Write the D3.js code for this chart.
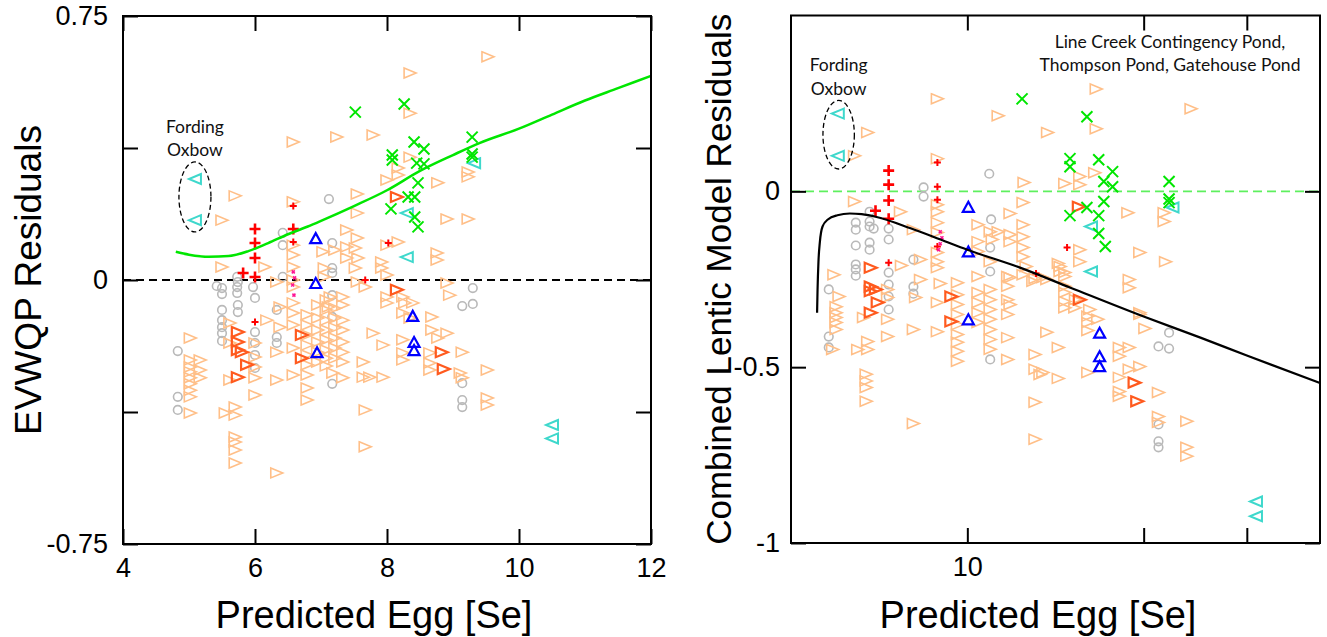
<!DOCTYPE html>
<html>
<head>
<meta charset="utf-8">
<script src="https://cdn.jsdelivr.net/npm/d3@7/dist/d3.min.js"></script>
<style>
  body { margin: 0; background: #fff; }
  svg { display: block; }
</style>
</head>
<body>
<svg id="chart" width="1327" height="637"></svg>
<script>
// ---------- Left panel: EVWQP residuals vs predicted egg Se ----------
const leftXTicks = [4, 6, 8, 10, 12];
const leftXLabels = ["4", "6", "8", "10", "12"];
const leftYTicks = [-0.75, -0.375, 0, 0.375, 0.75];
const leftYLabels = ["-0.75", "", "0", "", "0.75"];

const leftOrange = [
  [6.58,0.392],[5.70,0.239],[5.50,0.170],[5.50,0.037],[6.15,0.037],[6.58,0.222],
  [9.53,0.634],[8.35,0.588],[8.35,0.474],[7.24,0.406],[7.79,0.412],[8.35,0.349],
  [9.23,0.307],[9.23,0.293],[8.17,0.318],[8.17,0.298],[8.00,0.284],[8.77,0.276],
  [7.55,0.244],[7.55,0.190],[8.91,0.173],[9.23,0.173],[8.76,0.077],[8.76,0.057],
  [6.58,0.099],[6.58,0.071],[6.58,0.037],[6.58,0.0],[6.58,-0.020],[6.58,-0.065],
  [6.58,-0.094],[6.58,-0.128],[6.58,-0.193],[6.58,-0.270],
  [7.39,0.142],[7.55,0.119],[7.39,0.094],[7.52,0.091],[7.03,0.080],[7.21,0.085],
  [7.39,0.0625],[7.56,0.0625],[7.52,0.034],[7.05,0.034],[7.05,0.0085],[8.00,0.099],
  [8.17,0.108],[7.92,0.051],[7.92,0.034],[8.00,0.014],[7.55,-0.006],[7.67,-0.020],
  [8.91,-0.0085],[8.95,-0.043],[8.00,-0.048],[8.00,-0.065],[8.24,-0.048],[8.27,-0.065],
  [8.39,-0.065],[8.24,-0.094],[8.35,-0.108],[8.68,-0.105],[8.68,-0.142],[8.91,-0.151],
  [8.77,-0.165],[9.14,-0.205],[9.11,-0.264],[9.52,-0.256],[9.14,-0.278],[9.52,-0.335],
  [9.52,-0.355],[8.65,-0.207],[8.65,-0.236],[8.65,-0.256],[8.24,-0.170],[8.24,-0.207],
  [8.24,-0.227],[7.79,-0.151],[7.94,-0.185],[7.64,-0.233],[7.64,-0.276],[7.74,-0.276],
  [7.94,-0.276],[7.67,-0.369],[7.67,-0.474],[7.33,-0.278],[7.18,-0.264],[7.33,-0.048],
  [7.33,-0.071],[7.14,-0.048],[7.11,-0.077],
  [6.79,-0.099],[6.79,-0.128],[6.79,-0.156],[6.79,-0.185],[6.79,-0.213],[6.79,-0.241],
  [6.79,-0.270],[6.79,-0.307],[6.79,-0.341],
  [6.95,-0.071],[6.95,-0.108],[6.95,-0.142],[6.95,-0.176],[6.95,-0.205],[6.95,-0.233],
  [7.08,-0.057],[7.08,-0.085],[7.08,-0.114],[7.08,-0.142],[7.08,-0.170],[7.08,-0.199],
  [7.08,-0.222],[7.08,-0.244],
  [7.21,-0.080],[7.21,-0.108],[7.21,-0.136],[7.21,-0.165],[7.21,-0.193],[7.21,-0.222],
  [7.33,-0.114],[7.33,-0.142],[7.33,-0.176],[7.33,-0.205],[7.33,-0.233],
  [6.18,-0.114],[5.62,-0.122],[5.62,-0.179],[6.00,-0.179],[6.00,-0.219],[6.00,-0.247],
  [6.00,-0.278],[6.00,-0.327],[5.62,-0.284],[5.02,-0.165],
  [5.02,-0.227],[5.02,-0.247],[5.02,-0.261],[5.02,-0.278],[5.02,-0.295],[5.02,-0.313],
  [5.02,-0.332],[5.17,-0.227],[5.17,-0.256],[5.17,-0.278],
  [5.02,-0.378],[5.55,-0.378],[5.70,-0.361],[5.70,-0.384],[5.70,-0.446],[5.70,-0.460],
  [5.70,-0.483],[5.70,-0.520],[6.33,-0.548],[6.33,-0.006],[6.38,-0.077],[6.38,-0.134],
  [6.33,-0.205],[6.33,-0.284]
];
const leftDarkOrange = [
  [5.74,-0.148],[5.74,-0.176],[5.74,-0.199],[5.80,-0.205],[5.88,-0.241],[5.74,-0.276],
  [6.71,-0.156],[6.71,-0.222],[8.15,0.236],[8.15,-0.028],[8.83,-0.205],[8.86,-0.253]
];
const leftGray = [
  [4.83,-0.202],[4.83,-0.332],[4.83,-0.369],[5.42,-0.017],[5.50,-0.023],[5.50,-0.040],
  [5.50,-0.085],[5.50,-0.114],[5.50,-0.134],[5.50,-0.151],[5.50,-0.173],[5.73,0.009],
  [5.74,-0.006],[5.73,-0.020],[5.73,-0.037],[5.74,-0.071],[5.74,-0.091],[5.97,-0.020],
  [6.00,-0.051],[6.00,-0.148],[6.00,-0.179],[6.00,-0.213],[6.00,-0.250],[6.33,-0.085],
  [6.33,-0.162],[6.33,-0.179],[6.42,0.134],[6.42,0.099],[6.42,0.009],[7.12,0.230],
  [7.17,0.105],[7.17,0.034],[7.17,0.020],[7.17,-0.043],[7.17,-0.105],[7.17,-0.295],
  [9.14,-0.074],[9.30,-0.023],[9.30,-0.068],[9.14,-0.293],[9.14,-0.341],[9.14,-0.361]
];
const leftRedBig = [[6.00,0.145],[6.00,0.105],[6.00,0.0625],[6.00,0.0085],[5.82,0.020],[6.58,0.145]];
const leftRedSmall = [[6.58,0.210],[6.58,0.108],[6.00,-0.119],[8.02,0.105],[7.67,0.0]];
const leftBlue = [[6.92,0.119],[6.92,-0.0085],[6.94,-0.205],[8.39,-0.102],[8.41,-0.176],[8.41,-0.199]];
const leftGreen = [
  [7.52,0.477],[8.26,0.500],[8.08,0.355],[8.08,0.341],[8.41,0.392],[8.56,0.372],
  [8.45,0.332],[8.56,0.330],[9.29,0.406],[9.29,0.358],[9.29,0.349],[8.47,0.276],
  [8.32,0.236],[8.42,0.236],[8.06,0.202],[8.42,0.179],[8.47,0.151]
];
const leftCyan = [[5.09,0.287],[5.09,0.170],[8.30,0.190],[8.30,0.065],[9.32,0.332],[10.50,-0.412],[10.50,-0.450]];
const leftPink = [[6.58,0.023],[6.60,0.006],[6.57,-0.014],[6.59,-0.043]];
// fitted trend (green) for the left panel
const leftTrend = [
  [4.8,0.080],[5.0,0.072],[5.3,0.066],[5.6,0.068],[5.9,0.082],[6.2,0.105],[6.5,0.130],
  [6.8,0.152],[7.0,0.168],[7.5,0.210],[8.0,0.255],[8.5,0.310],[9.0,0.355],[9.4,0.389],
  [10.0,0.430],[10.5,0.470],[11.0,0.510],[11.5,0.545],[12.0,0.580]
];

// ---------- Right panel: combined lentic model residuals (log x) ----------
const rightXTicks = [10, 20, 30];
const rightXLabels = ["10", "", ""];
const rightYTicks = [-1, -0.5, 0];
const rightYLabels = ["-1", "-0.5", "0"];

const rightOrange = [
  [8.89,0.263],[11.29,0.215],[6.76,0.167],[6.42,0.101],[8.89,0.093],[16.6,0.291],
  [24.1,0.235],[13.71,0.167],[16.6,0.178],[6.42,-0.029],[7.69,-0.058],[8.89,-0.038],
  [8.89,-0.058],[12.5,0.025],[14.67,0.022],[15.56,0.042],[15.56,0.019],[16.5,0.053],
  [12.45,-0.032],[11.83,-0.063],[18.8,-0.061],[21.68,-0.061],[21.68,-0.086],[12.45,-0.095],
  [12.45,-0.129],[11.83,-0.123],[11.83,-0.143],[11.29,-0.115],[11.03,-0.137],[12.45,-0.160],
  [12.45,-0.186],[12.6,-0.214],[15.56,-0.166],[15.56,-0.200],[14.3,-0.205],[14.4,-0.228],
  [14.67,-0.242],[14.67,-0.270],[19.7,-0.174],[21.8,-0.200],[18.9,-0.251],[18.9,-0.274],
  [11.72,-0.242],[11.72,-0.270],[13.05,-0.248],[13.67,-0.251],[12.45,-0.237],[14.67,-0.313],
  [14.67,-0.331],[15.26,-0.331],[16.06,-0.355],[16.06,-0.373],[16.06,-0.396],[16.7,-0.364],
  [19.7,-0.345],[20.1,-0.390],[13.67,-0.401],[14.3,-0.444],[13.05,-0.464],[13.05,-0.506],
  [13.31,-0.521],[13.46,-0.515],[14.3,-0.532],[13.05,-0.600],[13.05,-0.705],[16.06,-0.515],
  [18.18,-0.444],[18.18,-0.469],[18.9,-0.444],[18.9,-0.506],[19.7,-0.498],[18.18,-0.529],
  [18.18,-0.569],[18.18,-0.583],[21.2,-0.572],[21.2,-0.640],[21.2,-0.657],[23.7,-0.654],
  [23.7,-0.728],[23.7,-0.753],[10.94,-0.449],[11.72,-0.416],[11.72,-0.478],[11.83,-0.245],
  [12.94,-0.256],[13.46,-0.245],[11.83,-0.322],[14.4,-0.214],[14.67,-0.231],[14.67,-0.288],
  [15.3,-0.308],[16.18,-0.336],[19.7,-0.350],
  [8.89,-0.089],[8.89,-0.117],[8.89,-0.174],[8.89,-0.200],[8.89,-0.217],[8.99,-0.262],
  [8.89,-0.316],[8.89,-0.399],[8.09,-0.109],[8.32,-0.194],[7.72,-0.211],[8.32,-0.251],
  [8.16,-0.302],[8.09,-0.393],[8.09,-0.660],[7.31,-0.279],[7.31,-0.302],[7.31,-0.364],
  [7.31,-0.413],[6.65,-0.359],[5.92,-0.237],[6.04,-0.299],[5.97,-0.328],[5.97,-0.345],
  [5.97,-0.359],[5.97,-0.373],[5.97,-0.393],[5.89,-0.450],[6.50,-0.450],[6.76,-0.427],
  [6.76,-0.450],[6.72,-0.520],[6.72,-0.539],[6.72,-0.558],[6.72,-0.597],[9.62,-0.429],
  [9.62,-0.455],[9.62,-0.483],[9.62,-0.260],[9.62,-0.294],[9.62,-0.322],[9.62,-0.350],
  [9.62,-0.379],[9.62,-0.407],[10.43,-0.095],[10.43,-0.143],[10.43,-0.171],[10.43,-0.242],
  [10.43,-0.288],[10.43,-0.316],[10.43,-0.345],[10.43,-0.373],[10.94,-0.115],[10.94,-0.200],
  [10.94,-0.279],[10.94,-0.308],[10.94,-0.336],[10.94,-0.364],[10.94,-0.393],[10.94,-0.421],
  [11.72,-0.308],[11.72,-0.350]
];
const rightDarkOrange = [
  [6.84,-0.217],[6.84,-0.271],[6.98,-0.279],[6.84,-0.284],[7.03,-0.316],[6.84,-0.345],
  [9.39,-0.299],[9.39,-0.370],[15.5,-0.044],[15.56,-0.308],[19.3,-0.544],[19.5,-0.597]
];
const rightGray = [
  [10.9,0.050],[8.42,0.011],[8.42,-0.015],[10.98,-0.080],[6.81,-0.058],[6.45,-0.089],
  [6.45,-0.109],[6.81,-0.086],[6.81,-0.100],[6.92,-0.106],[7.34,-0.106],[7.34,-0.137],
  [6.45,-0.154],[6.81,-0.146],[6.81,-0.166],[6.45,-0.208],[6.45,-0.222],[6.45,-0.240],
  [7.34,-0.231],[7.34,-0.265],[7.34,-0.299],[7.34,-0.336],[5.80,-0.279],[5.80,-0.413],
  [5.80,-0.444],[8.09,-0.194],[8.09,-0.271],[8.09,-0.291],[10.94,-0.160],[10.94,-0.228],
  [10.94,-0.478],[22.1,-0.402],[21.2,-0.441],[22.1,-0.447],[21.2,-0.663],[21.2,-0.711],
  [21.2,-0.728]
];
const rightRedBig = [[7.34,0.059],[7.34,0.019],[7.34,-0.026],[7.34,-0.078],[6.97,-0.055]];
const rightRedSmall = [[8.89,0.082],[8.89,0.013],[8.89,-0.024],[7.34,-0.203],[8.89,-0.157],[14.8,-0.160],[13.1,-0.234]];
const rightBlue = [[10.04,-0.044],[10.04,-0.171],[10.04,-0.364],[16.82,-0.402],[16.82,-0.469],[16.82,-0.497]];
const rightGreen = [
  [12.4,0.263],[16.0,0.212],[14.97,0.093],[14.97,0.070],[16.76,0.090],[17.7,0.056],
  [17.1,0.028],[17.7,0.013],[22.1,0.028],[22.1,-0.022],[22.1,-0.032],[17.1,-0.029],
  [16.0,-0.046],[14.97,-0.069],[16.76,-0.069],[16.76,-0.120],[17.2,-0.157]
];
const rightCyan = [[6.01,0.221],[6.01,0.101],[22.4,-0.046],[16.26,-0.100],[16.26,-0.228],[31.1,-0.882],[31.1,-0.924]];
const rightPink = [[8.99,-0.115],[9.05,-0.132],[8.99,-0.149],[8.93,-0.166]];
// fitted trend (black) for the right panel
const rightTrend = [
  [5.54,-0.345],[5.55,-0.28],[5.57,-0.20],[5.60,-0.145],[5.66,-0.100],[5.78,-0.080],
  [6.0,-0.068],[6.3,-0.063],[6.6,-0.065],[7.0,-0.073],[8.0,-0.105],[9.0,-0.137],
  [10.0,-0.166],[12.3,-0.217],[15.0,-0.274],[20.0,-0.356],[25.0,-0.416],[30.0,-0.467],
  [40.0,-0.545]
];

// ---------- styles ----------
const C = {
  orange: "#ffbf88",
  darkOrange: "#ff5a1e",
  gray: "#b9b9b9",
  red: "#ff0000",
  blue: "#0000ff",
  green: "#00e600",
  cyan: "#3ed8cc",
  pink: "#ff1493"
};
const SANS = "'Liberation Sans', Arial, sans-serif";
const NOTE = "Lato, 'Open Sans', sans-serif";

const svg = d3.select("#chart");
svg.append("rect").attr("width", 1327).attr("height", 637).attr("fill", "#fff");

// marker outlines, centred on the data point
const SHAPES = {
  triRight: "M-6,-5L6,0L-6,5Z",
  triLeft: "M6,-5L-6,0L6,5Z",
  triUp: "M-5.5,5L0,-5L5.5,5Z",
  circle: d3.symbol(d3.symbolCircle, Math.PI * 4.3 * 4.3)(),
  plusBig: "M-5.5,0H5.5M0,-5.5V5.5",
  plusSmall: "M-3.5,0H3.5M0,-3.5V3.5",
  cross: "M-5.5,-5.5L5.5,5.5M-5.5,5.5L5.5,-5.5",
  dot: "M-1.5,-1.5L1.5,1.5M-1.5,1.5L1.5,-1.5"
};

function markers(g, data, x, y, shape, color, width) {
  g.append("g")
    .selectAll("path")
    .data(data)
    .join("path")
    .attr("transform", d => `translate(${x(d[0])},${y(d[1])})`)
    .attr("d", SHAPES[shape])
    .attr("fill", "none")
    .attr("stroke", color)
    .attr("stroke-width", width);
}

function frame(x, y, o) {
  const g = svg.append("g");
  const [x0, x1] = x.range();
  const [y0, y1] = y.range();
  const style = sel => {
    sel.select(".domain").remove();
    sel.selectAll(".tick line").attr("stroke", "#000").attr("stroke-width", 2);
    sel.selectAll(".tick text").attr("font-family", SANS).attr("font-size", 27).attr("fill", "#000");
  };
  g.append("g").attr("transform", `translate(0,${y0})`)
    .call(d3.axisBottom(x).tickValues(o.xTicks).tickSize(-15).tickSizeOuter(0).tickPadding(14)
      .tickFormat((d, i) => o.xLabels[i])).call(style);
  g.append("g").attr("transform", `translate(0,${y1})`)
    .call(d3.axisTop(x).tickValues(o.xTicks).tickSize(-15).tickSizeOuter(0).tickFormat(() => "")).call(style);
  g.append("g").attr("transform", `translate(${x0},0)`)
    .call(d3.axisLeft(y).tickValues(o.yTicks).tickSize(-15).tickSizeOuter(0).tickPadding(o.yPad)
      .tickFormat((d, i) => o.yLabels[i])).call(style);
  g.append("g").attr("transform", `translate(${x1},0)`)
    .call(d3.axisRight(y).tickValues(o.yTicks).tickSize(-15).tickSizeOuter(0).tickFormat(() => "")).call(style);
  g.append("rect").attr("x", x0).attr("y", y1).attr("width", x1 - x0).attr("height", y0 - y1)
    .attr("fill", "none").attr("stroke", "#000").attr("stroke-width", 2);
  return g;
}

function series(x, y, s) {
  const g = svg.append("g");
  markers(g, s.gray, x, y, "circle", C.gray, 1.6);
  markers(g, s.orange, x, y, "triRight", C.orange, 1.6);
  markers(g, s.darkOrange, x, y, "triRight", C.darkOrange, 2.2);
  markers(g, s.blue, x, y, "triUp", C.blue, 2.2);
  markers(g, s.cyan, x, y, "triLeft", C.cyan, 2);
  markers(g, s.redBig, x, y, "plusBig", C.red, 2.6);
  markers(g, s.redSmall, x, y, "plusSmall", C.red, 2);
  markers(g, s.pink, x, y, "dot", C.pink, 1.5);
  markers(g, s.green, x, y, "cross", C.green, 2);
}

function note(lines, cx, baseline, step, size) {
  const t = svg.append("text").attr("font-family", NOTE).attr("font-size", size)
    .attr("fill", "#111").attr("text-anchor", "middle");
  lines.forEach((s, i) => t.append("tspan").attr("x", cx).attr("y", baseline + i * step).text(s));
}

// ---------- left panel ----------
const xL = d3.scaleLinear().domain([4, 12]).range([123, 651]);
const yL = d3.scaleLinear().domain([-0.75, 0.75]).range([544, 16]);

svg.append("line").attr("x1", xL(4)).attr("x2", xL(12)).attr("y1", yL(0)).attr("y2", yL(0))
  .attr("stroke", "#000").attr("stroke-width", 2).attr("stroke-dasharray", "8,5");

series(xL, yL, {
  gray: leftGray, orange: leftOrange, darkOrange: leftDarkOrange, blue: leftBlue,
  cyan: leftCyan, redBig: leftRedBig, redSmall: leftRedSmall, pink: leftPink, green: leftGreen
});

svg.append("path").datum(leftTrend)
  .attr("d", d3.line().x(d => xL(d[0])).y(d => yL(d[1])).curve(d3.curveMonotoneX))
  .attr("fill", "none").attr("stroke", C.green).attr("stroke-width", 2.5);

frame(xL, yL, { xTicks: leftXTicks, xLabels: leftXLabels, yTicks: leftYTicks, yLabels: leftYLabels, yPad: 15 });

svg.append("ellipse").attr("cx", xL(5.09)).attr("cy", yL(0.236)).attr("rx", 16).attr("ry", 35)
  .attr("fill", "none").attr("stroke", "#000").attr("stroke-width", 1.3).attr("stroke-dasharray", "5,3");
note(["Fording", "Oxbow"], xL(5.09), 133, 23, 17.5);

svg.append("text").attr("transform", `translate(41,${(yL(0.75) + yL(-0.75)) / 2}) rotate(-90)`)
  .attr("text-anchor", "middle").attr("font-family", SANS).attr("font-size", 37)
  .text("EVWQP Residuals");
svg.append("text").attr("x", 374).attr("y", 628).attr("text-anchor", "middle")
  .attr("font-family", SANS).attr("font-size", 38).text("Predicted Egg [Se]");

// ---------- right panel ----------
const xR = d3.scaleLog().domain([5, 40]).range([791, 1320]);
const yR = d3.scaleLinear().domain([-1, 0.5]).range([543, 15.5]);

svg.append("line").attr("x1", xR(5)).attr("x2", xR(40)).attr("y1", yR(0)).attr("y2", yR(0))
  .attr("stroke", "#5ef05e").attr("stroke-width", 1.8).attr("stroke-dasharray", "9,5");

series(xR, yR, {
  gray: rightGray, orange: rightOrange, darkOrange: rightDarkOrange, blue: rightBlue,
  cyan: rightCyan, redBig: rightRedBig, redSmall: rightRedSmall, pink: rightPink, green: rightGreen
});

svg.append("path").datum(rightTrend)
  .attr("d", d3.line().x(d => xR(d[0])).y(d => yR(d[1])).curve(d3.curveMonotoneX))
  .attr("fill", "none").attr("stroke", "#000").attr("stroke-width", 2.2);

frame(xR, yR, { xTicks: rightXTicks, xLabels: rightXLabels, yTicks: rightYTicks, yLabels: rightYLabels, yPad: 11 });

svg.append("ellipse").attr("cx", xR(6.03)).attr("cy", yR(0.161)).attr("rx", 15.7).attr("ry", 34.3)
  .attr("fill", "none").attr("stroke", "#000").attr("stroke-width", 1.3).attr("stroke-dasharray", "5,3");
note(["Fording", "Oxbow"], xR(6.03), 71, 24, 17.5);
note(["Line Creek Contingency Pond,", "Thompson Pond, Gatehouse Pond"], 1170, 48, 23, 17.5);

svg.append("text").attr("transform", `translate(731,${(yR(0.5) + yR(-1)) / 2}) rotate(-90)`)
  .attr("text-anchor", "middle").attr("font-family", SANS).attr("font-size", 35)
  .text("Combined Lentic Model Residuals");
svg.append("text").attr("x", 1038).attr("y", 628).attr("text-anchor", "middle")
  .attr("font-family", SANS).attr("font-size", 38).text("Predicted Egg [Se]");
</script>
</body>
</html>
